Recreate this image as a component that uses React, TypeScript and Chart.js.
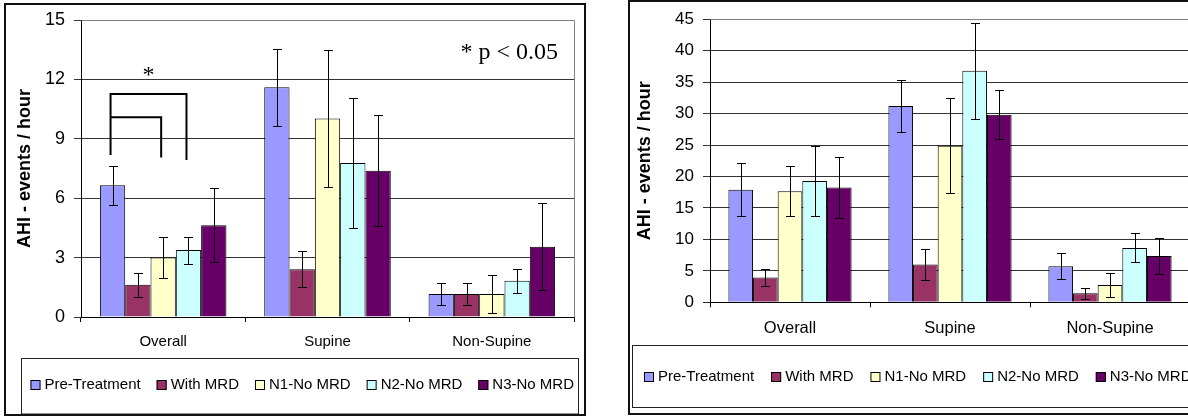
import React, { useEffect, useRef } from 'react';
import { Chart, registerables } from 'chart.js';

Chart.register(...registerables);

// ---------- data ----------
const categories = ['Overall', 'Supine', 'Non-Supine'];
const seriesNames = ['Pre-Treatment', 'With MRD', 'N1-No MRD', 'N2-No MRD', 'N3-No MRD'];
const seriesColors = ['#9999FF', '#993366', '#FFFFCC', '#CCFFFF', '#660066'];
const yTitle = 'AHI - events / hour';

// Left chart (0 - 15)
const leftPreTreatment = [6.65, 11.6, 1.16];
const leftWithMRD = [1.63, 2.41, 1.16];
const leftN1NoMRD = [3.0, 10.03, 1.16];
const leftN2NoMRD = [3.38, 7.78, 1.83];
const leftN3NoMRD = [4.63, 7.39, 3.55];
const leftPreTreatmentErr = [0.97, 1.93, 0.57];
const leftWithMRDErr = [0.6, 0.9, 0.57];
const leftN1NoMRDErr = [1.04, 3.44, 0.95];
const leftN2NoMRDErr = [0.68, 3.3, 0.6];
const leftN3NoMRDErr = [1.87, 2.8, 2.2];

// significance brackets on left chart (Overall group)
const sigBracketLevels = [10.09, 11.26]; // inner, outer
const sigBracketFeet = [8.18, 8.05, 7.93]; // left leg, inner right leg, outer right leg
const sigStarLevel = 12.39;
const sigNote = '* p < 0.05';

// Right chart (0 - 45)
const rightPreTreatment = [17.9, 31.2, 5.74];
const rightWithMRD = [3.95, 6.0, 1.42];
const rightN1NoMRD = [17.66, 24.9, 2.74];
const rightN2NoMRD = [19.3, 36.8, 8.64];
const rightN3NoMRD = [18.24, 29.8, 7.37];
const rightPreTreatmentErr = [4.2, 4.1, 2.05];
const rightWithMRDErr = [1.3, 2.4, 0.85];
const rightN1NoMRDErr = [4.0, 7.6, 1.95];
const rightN2NoMRDErr = [5.6, 7.6, 2.3];
const rightN3NoMRDErr = [4.8, 3.9, 2.9];

const FONT = "'Liberation Sans', Arial, sans-serif";

type Spec = {
  left: number;
  width: number;
  height: number;
  values: number[][];
  errors: number[][];
  max: number;
  step: number;
  tickFont: number;
  catFont: number;
  catPad: number;
  yWidth: number;
  pad: { left: number; right: number; top: number; bottom: number };
  frame: { x: number; y: number; w: number; h: number };
  legend: { boxX: number; boxY: number; boxW: number; boxH: number; startX: number; cy: number; textGap: number; itemGap: number; font: number };
  significance?: boolean;
};

const leftSpec: Spec = {
  left: 0,
  width: 594,
  height: 417,
  values: [leftPreTreatment, leftWithMRD, leftN1NoMRD, leftN2NoMRD, leftN3NoMRD],
  errors: [leftPreTreatmentErr, leftWithMRDErr, leftN1NoMRDErr, leftN2NoMRDErr, leftN3NoMRDErr],
  max: 15,
  step: 3,
  tickFont: 18,
  catFont: 15,
  catPad: 11,
  yWidth: 77,
  pad: { left: 4, right: 20, top: 20, bottom: 60 },
  frame: { x: 5, y: 4, w: 580, h: 411 },
  legend: { boxX: 21.5, boxY: 358.5, boxW: 557, boxH: 55.5, startX: 30.5, cy: 384.5, textGap: 4, itemGap: 16, font: 15 },
  significance: true,
};

const rightSpec: Spec = {
  left: 594,
  width: 640,
  height: 417,
  values: [rightPreTreatment, rightWithMRD, rightN1NoMRD, rightN2NoMRD, rightN3NoMRD],
  errors: [rightPreTreatmentErr, rightWithMRDErr, rightN1NoMRDErr, rightN2NoMRDErr, rightN3NoMRDErr],
  max: 45,
  step: 5,
  tickFont: 17,
  catFont: 16.5,
  catPad: 11,
  yWidth: 86,
  pad: { left: 30, right: 44, top: 17.7, bottom: 74.7 },
  frame: { x: 35, y: 1, w: 700, h: 413 },
  legend: { boxX: 38.5, boxY: 345.5, boxW: 700, boxH: 62, startX: 50, cy: 376.5, textGap: 4, itemGap: 17, font: 15 },
};

function buildConfig(spec: Spec): any {
  const datasets = seriesNames.map((name, i) => ({
    label: name,
    data: spec.values[i],
    backgroundColor: seriesColors[i],
    borderColor: '#000',
    borderWidth: 1,
    categoryPercentage: 0.77,
    barPercentage: 1,
  }));

  const customPlugin = {
    id: 'custom',
    beforeDatasetsDraw(chart: any) {
      const { ctx, chartArea } = chart;
      ctx.save();
      ctx.strokeStyle = '#808080';
      ctx.lineWidth = 1;
      ctx.beginPath();
      ctx.moveTo(Math.round(chartArea.left) + 0.5, Math.round(chartArea.top) + 0.5);
      ctx.lineTo(Math.round(chartArea.right) + 0.5, Math.round(chartArea.top) + 0.5);
      ctx.lineTo(Math.round(chartArea.right) + 0.5, Math.round(chartArea.bottom) + 0.5);
      ctx.stroke();
      ctx.restore();
    },
    afterDatasetsDraw(chart: any) {
      const { ctx } = chart;
      const yScale = chart.scales.y;
      ctx.save();
      ctx.strokeStyle = '#000';
      ctx.lineWidth = 1;
      chart.data.datasets.forEach((ds: any, i: number) => {
        const meta = chart.getDatasetMeta(i);
        meta.data.forEach((el: any, j: number) => {
          const v = ds.data[j];
          const e = spec.errors[i][j];
          const x = Math.round(el.x) + 0.5;
          const yt = Math.round(yScale.getPixelForValue(v + e)) + 0.5;
          const yb = Math.round(yScale.getPixelForValue(Math.max(0, v - e))) + 0.5;
          ctx.beginPath();
          ctx.moveTo(x, yt);
          ctx.lineTo(x, yb);
          ctx.moveTo(x - 4.5, yt);
          ctx.lineTo(x + 4.5, yt);
          ctx.moveTo(x - 4.5, yb);
          ctx.lineTo(x + 4.5, yb);
          ctx.stroke();
        });
      });
      ctx.restore();

      if (spec.significance) {
        const xa = chart.getDatasetMeta(0).data[0].x - 2;
        const xb = chart.getDatasetMeta(2).data[0].x - 2;
        const xc = chart.getDatasetMeta(3).data[0].x - 2;
        const yIn = yScale.getPixelForValue(sigBracketLevels[0]);
        const yOut = yScale.getPixelForValue(sigBracketLevels[1]);
        ctx.save();
        ctx.strokeStyle = '#000';
        ctx.lineWidth = 2;
        ctx.beginPath();
        ctx.moveTo(xa, yScale.getPixelForValue(sigBracketFeet[0]));
        ctx.lineTo(xa, yOut);
        ctx.lineTo(xc, yOut);
        ctx.lineTo(xc, yScale.getPixelForValue(sigBracketFeet[2]));
        ctx.moveTo(xa, yIn);
        ctx.lineTo(xb, yIn);
        ctx.lineTo(xb, yScale.getPixelForValue(sigBracketFeet[1]));
        ctx.stroke();
        ctx.fillStyle = '#000';
        ctx.font = "24px 'Liberation Serif', 'Times New Roman', serif";
        ctx.textAlign = 'center';
        ctx.textBaseline = 'middle';
        ctx.fillText('*', (xa + xc) / 2, yScale.getPixelForValue(sigStarLevel) + 4);
        ctx.textAlign = 'right';
        ctx.textBaseline = 'alphabetic';
        ctx.fillText(sigNote, chart.chartArea.right - 16, chart.chartArea.top + 38.5);
        ctx.restore();
      }
    },
    afterDraw(chart: any) {
      const { ctx } = chart;
      const lg = spec.legend;
      ctx.save();
      // legend box
      ctx.strokeStyle = '#222';
      ctx.lineWidth = 1;
      ctx.strokeRect(lg.boxX, lg.boxY, lg.boxW, lg.boxH);
      ctx.font = `${lg.font}px ${FONT}`;
      ctx.textBaseline = 'middle';
      ctx.textAlign = 'left';
      let x = lg.startX;
      chart.data.datasets.forEach((ds: any) => {
        ctx.fillStyle = ds.backgroundColor;
        ctx.fillRect(x, Math.round(lg.cy - 5), 10, 10);
        ctx.strokeStyle = '#000';
        ctx.strokeRect(x + 0.5, Math.round(lg.cy - 5) + 0.5, 9, 9);
        ctx.fillStyle = '#000';
        const tx = x + 10 + lg.textGap;
        ctx.fillText(ds.label, tx, lg.cy);
        x = tx + ctx.measureText(ds.label).width + lg.itemGap;
      });
      // outer frame
      ctx.strokeStyle = '#111';
      ctx.lineWidth = 2;
      const f = spec.frame;
      ctx.strokeRect(f.x, f.y, f.w, f.h);
      ctx.restore();
    },
  };

  return {
    type: 'bar',
    data: { labels: categories, datasets },
    options: {
      responsive: false,
      maintainAspectRatio: false,
      animation: false,
      devicePixelRatio: 1,
      layout: { padding: spec.pad },
      plugins: {
        legend: { display: false },
        tooltip: { enabled: false },
        title: { display: false },
      },
      scales: {
        x: {
          grid: { drawOnChartArea: false, drawTicks: true, tickLength: 5, color: '#000', offset: true },
          border: { display: true, color: '#000', width: 1 },
          ticks: { color: '#000', font: { family: FONT, size: spec.catFont }, padding: spec.catPad, maxRotation: 0 },
          afterFit: (s: any) => {
            s.height = 40;
          },
        },
        y: {
          min: 0,
          max: spec.max,
          ticks: { stepSize: spec.step, color: '#000', font: { family: FONT, size: spec.tickFont }, padding: 9 },
          grid: { color: '#333', lineWidth: 1, tickLength: 7, drawTicks: true },
          border: { display: true, color: '#000', width: 1 },
          title: {
            display: true,
            text: yTitle,
            color: '#000',
            font: { family: FONT, size: 18, weight: 'bold' },
            padding: { top: 10, bottom: 0 },
          },
          afterFit: (s: any) => {
            s.width = spec.yWidth;
          },
        },
      },
    },
    plugins: [customPlugin],
  };
}

function BarChart({ spec }: { spec: Spec }) {
  const ref = useRef<HTMLCanvasElement>(null);
  useEffect(() => {
    const chart = new Chart(ref.current as HTMLCanvasElement, buildConfig(spec));
    return () => chart.destroy();
  }, [spec]);
  return (
    <canvas
      ref={ref}
      width={spec.width}
      height={spec.height}
      style={{ position: 'absolute', left: spec.left, top: 0, width: spec.width, height: spec.height, display: 'block' }}
    />
  );
}

export default function App() {
  return (
    <div
      style={{
        position: 'fixed',
        left: 0,
        top: 0,
        width: 1188,
        height: 417,
        overflow: 'hidden',
        background: '#fff',
      }}
    >
      <BarChart spec={leftSpec} />
      <BarChart spec={rightSpec} />
    </div>
  );
}
